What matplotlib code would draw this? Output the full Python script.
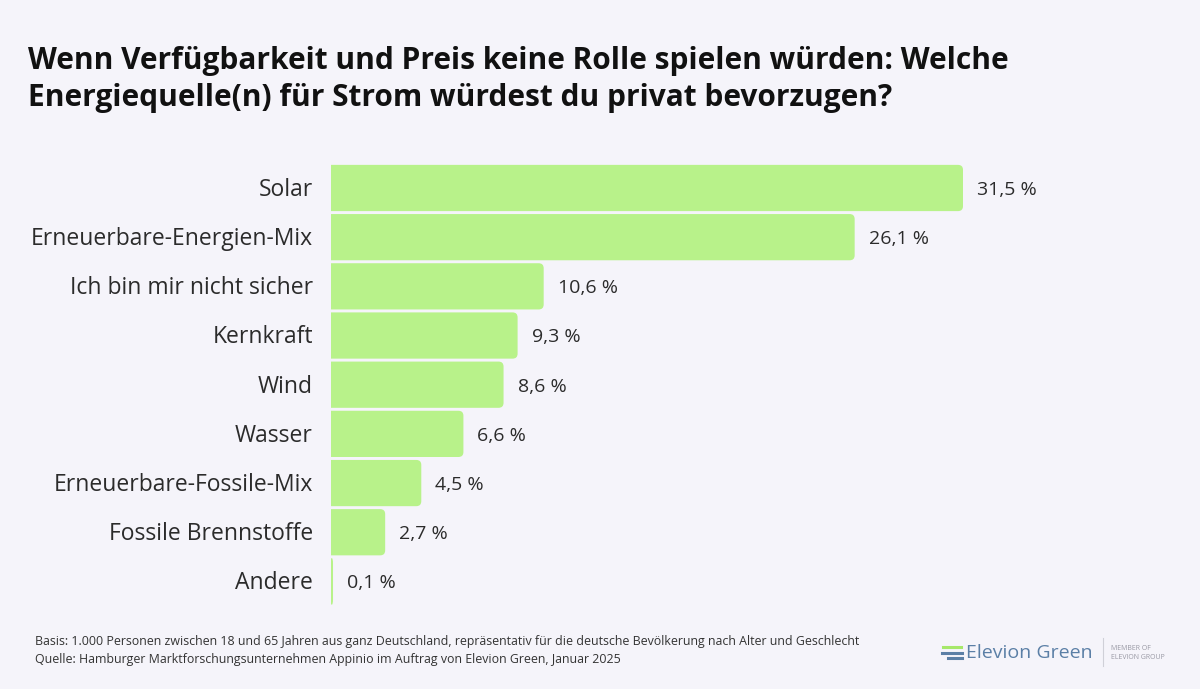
import numpy as np
from matplotlib import pyplot as plt
from matplotlib.path import Path
from matplotlib.patches import PathPatch

categories = ["Solar", "Erneuerbare-Energien-Mix", "Ich bin mir nicht sicher", "Kernkraft",
              "Wind", "Wasser", "Erneuerbare-Fossile-Mix", "Fossile Brennstoffe", "Andere"]
values = [31.5, 26.1, 10.6, 9.3, 8.6, 6.6, 4.5, 2.7, 0.1]
value_labels = ["31,5 %", "26,1 %", "10,6 %", "9,3 %", "8,6 %", "6,6 %", "4,5 %", "2,7 %", "0,1 %"]

title = ("Wenn Verfügbarkeit und Preis keine Rolle spielen würden: Welche\n"
         "Energiequelle(n) für Strom würdest du privat bevorzugen?")
footer = ["Basis: 1.000 Personen zwischen 18 und 65 Jahren aus ganz Deutschland, repräsentativ für die deutsche Bevölkerung nach Alter und Geschlecht",
          "Quelle: Hamburger Marktforschungsunternehmen Appinio im Auftrag von Elevion Green, Januar 2025"]

bg = "#f5f4fa"
bar_color = "#b8f28a"
text_color = "#2b2b2b"
font = "Open Sans"

W, H = 1200, 689
fig = plt.figure(figsize=(W / 100, H / 100), dpi=100, facecolor=bg)

# axes placed in pixel terms
x0, x1 = 331, 1100
y_top, y_bot = 163.4, 606
ax = fig.add_axes([x0 / W, 1 - y_bot / H, (x1 - x0) / W, (y_bot - y_top) / H])
ax.set_facecolor(bg)
px_per_unit = 632 / 31.5
ax.set_xlim(0, (x1 - x0) / px_per_unit)
ax.set_ylim(len(categories) - 0.5, -0.5)
ax.axis("off")

row_px = (y_bot - y_top) / len(categories)
bar_h = 0.94
y = np.arange(len(categories))


def right_rounded_bar(v, yc, h, r_px=5):
    """ bar path with square left side and rounded right corners """
    rx = min(r_px / px_per_unit, v / 2)
    ry = r_px / row_px
    ya, yb = yc - h / 2, yc + h / 2
    verts = [(0, ya), (v - rx, ya), (v, ya), (v, ya + ry), (v, yb - ry),
             (v, yb), (v - rx, yb), (0, yb), (0, ya)]
    codes = [Path.MOVETO, Path.LINETO, Path.CURVE3, Path.CURVE3, Path.LINETO,
             Path.CURVE3, Path.CURVE3, Path.LINETO, Path.CLOSEPOLY]
    return PathPatch(Path(verts, codes), fc=bar_color, ec="none")


for yi, v, lab, cat in zip(y, values, value_labels, categories):
    ax.add_patch(right_rounded_bar(v, yi, bar_h))
    ax.text(v + 14 / px_per_unit, yi + 0.04, lab, va="center", ha="left",
            fontsize=14, color=text_color, family=font)
    ax.text(-18 / px_per_unit, yi + 0.04, cat, va="center", ha="right",
            fontsize=16.5, color=text_color, family=font, clip_on=False)

fig.text(28 / W, 1 - 46 / H, title, ha="left", va="top", fontsize=21.5,
         fontweight="bold", color="#111111", family=font, linespacing=1.32)

for i, line in enumerate(footer):
    fig.text(35 / W, 1 - (641 + 19 * i) / H, line, ha="left", va="center",
             fontsize=8.9, color="#333333", family=font)

# logo
logo_blue = "#5b7fa6"
fig.add_artist(plt.Line2D([943 / W, 961 / W], [1 - 647 / H] * 2, color="#a6e86a", lw=2.2))
fig.add_artist(plt.Line2D([942 / W, 962 / W], [1 - 652.5 / H] * 2, color=logo_blue, lw=2.2))
fig.add_artist(plt.Line2D([948 / W, 962 / W], [1 - 658 / H] * 2, color=logo_blue, lw=2.2))
fig.text(966 / W, 1 - 653 / H, "Elevion Green", ha="left", va="center",
         fontsize=14, color=logo_blue, family=font)
fig.add_artist(plt.Line2D([1103 / W] * 2, [1 - 638 / H, 1 - 666 / H], color="#d0d0d8", lw=0.8))
fig.text(1111 / W, 1 - 653 / H, "MEMBER OF\nELEVION GROUP", ha="left", va="center",
         fontsize=5, color="#9a9aa5", family=font, linespacing=1.4)

fig.savefig("out.png", dpi=100, facecolor=bg)
